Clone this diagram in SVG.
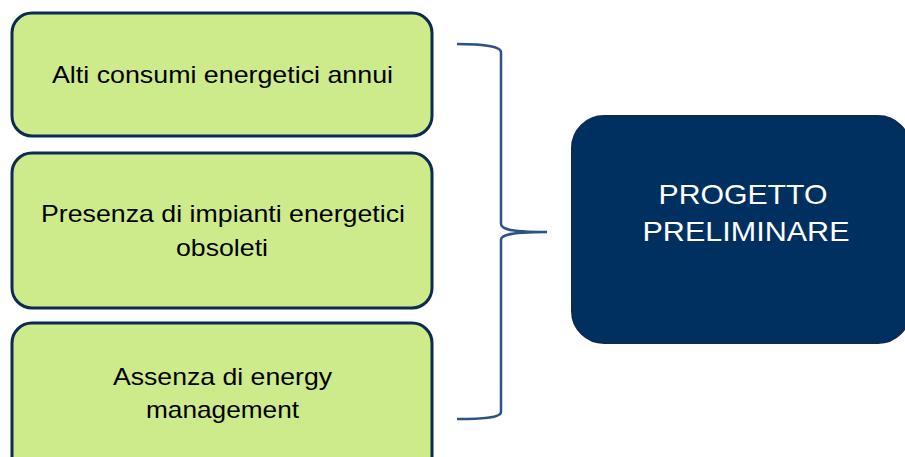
<svg xmlns="http://www.w3.org/2000/svg" width="905" height="457" viewBox="0 0 905 457">
<style>
.g{fill:#cdeb8b;stroke:#0d2b52;stroke-width:3}
.t{font-family:"Liberation Sans",Arial,sans-serif;font-size:24px;fill:#000;text-anchor:middle}
.w{font-family:"Liberation Sans",Arial,sans-serif;font-size:27.5px;fill:#fff;text-anchor:middle}
</style>
<rect width="905" height="457" fill="#fff"/>
<g id="box1"><rect class="g" x="12" y="13" width="420" height="123" rx="20"/>
<text class="t" x="222.5" y="83" textLength="341" lengthAdjust="spacingAndGlyphs">Alti consumi energetici annui</text></g>
<g id="box2"><rect class="g" x="12" y="153" width="420" height="155" rx="20"/>
<text class="t" x="223" y="222" textLength="364" lengthAdjust="spacingAndGlyphs">Presenza di impianti energetici</text>
<text class="t" x="222" y="256" textLength="92" lengthAdjust="spacingAndGlyphs">obsoleti</text></g>
<g id="box3"><rect class="g" x="12" y="323" width="420" height="160" rx="20"/>
<text class="t" x="222.5" y="385" textLength="219" lengthAdjust="spacingAndGlyphs">Assenza di energy</text>
<text class="t" x="222.5" y="418" textLength="153" lengthAdjust="spacingAndGlyphs">management</text></g>
<g id="connectors"><path d="M457,44 C480,44 501,46 501,52 L501,224 C501,230 515,232 547,232 C515,232 501,234 501,240 L501,412 C501,418 480,419 457,419" fill="none" stroke="#2b5388" stroke-width="2.5"/></g>
<g id="target"><rect x="572" y="116" width="338" height="227" rx="32" fill="#00305f" stroke="#0d2b52" stroke-width="2"/>
<text class="w" x="743" y="204" textLength="169" lengthAdjust="spacingAndGlyphs">PROGETTO</text>
<text class="w" x="746" y="241" textLength="207" lengthAdjust="spacingAndGlyphs">PRELIMINARE</text></g>
</svg>
